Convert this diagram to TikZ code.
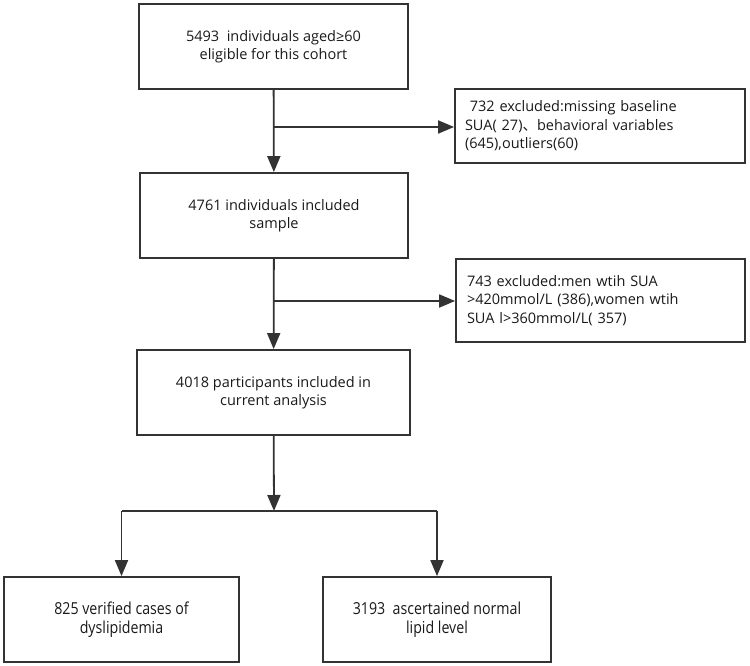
\documentclass[tikz,border=0pt]{standalone}
\usepackage{fontspec}
\setmainfont{Open Sans}
\newfontfamily\narrowfont{Open Sans}[FakeStretch=0.86]
\newfontfamily\cjk{Noto Sans CJK SC}
\usetikzlibrary{arrows.meta}

\definecolor{inkgray}{HTML}{333333}

\tikzset{
  box/.style={draw=inkgray,line width=1.8pt,text=black!90,inner sep=0pt,
    minimum height=85pt,align=center,
    font=\fontsize{14.5}{18.5}\selectfont},
  sidebox/.style={box,align=left,minimum height=74pt},
  line/.style={draw=inkgray,line width=1.8pt},
  arr/.style={line,-{Triangle[length=16pt,width=13pt]}}
}

\begin{document}
\begin{tikzpicture}[x=1pt,y=-1pt]
  \useasboundingbox (0,0) rectangle (750,666);

  % main column
  \node[box,minimum width=269pt] (cohort) at (273.5,46.5)
    {5493~ individuals aged≥60\\eligible for this cohort};
  \node[box,minimum width=268pt] (sample) at (274,215.5)
    {4761 individuals included\\sample};
  \node[box,minimum width=273pt] (analysis) at (273.5,392.5)
    {4018 participants included in\\current analysis};

  % exclusions
  \node[sidebox,minimum width=290pt,text width=270pt] (excl1) at (600,126)
    {~732 excluded:missing baseline\\SUA( 27){\cjk 、}behavioral variables\\(645),outliers(60)};
  \node[sidebox,minimum width=289pt,minimum height=83pt,text width=267pt] (excl2) at (600.5,300.5)
    {743 excluded:men wtih SUA\\>420mmol/L (386),women wtih\\SUA l>360mmol/L( 357)};

  % outcomes
  \node[box,minimum width=235pt,font=\narrowfont\fontsize{16.5}{19}\selectfont] (dys) at (121.5,619.5)
    {825 verified cases of\\dyslipidemia};
  \node[box,minimum width=228pt,font=\narrowfont\fontsize{16.5}{19}\selectfont] (normal) at (437,619.5)
    {3193~ ascertained normal\\lipid level};

  \coordinate (b1) at (274,127);
  \coordinate (b2) at (274,301);
  \coordinate (split) at (274,511);

  \draw[arr] (cohort) -- (sample);
  \draw[arr] (b1) -- (b1 -| excl1.west);
  \draw[arr] (sample) -- (analysis);
  \draw[arr] (b2) -- (b2 -| excl2.west);
  \draw[arr] (analysis) -- (split);
  \draw[line] (split -| dys) -- (split -| normal);
  \draw[arr] (split -| dys) -- (dys);
  \draw[arr] (split -| normal) -- (normal);
\end{tikzpicture}
\end{document}
